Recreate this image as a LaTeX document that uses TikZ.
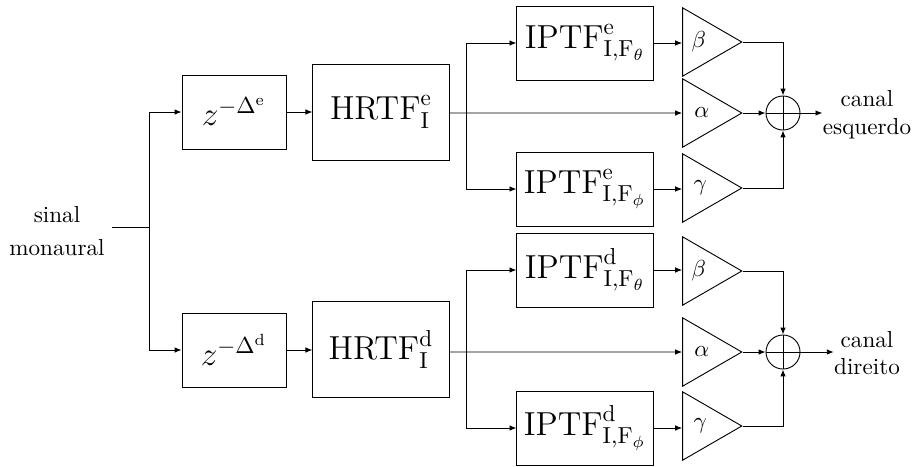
\documentclass[tikz,border=0pt]{standalone}
\usepackage{tikz}
\usetikzlibrary{shapes.geometric,arrows.meta,positioning,calc}

\begin{document}
\begin{tikzpicture}[
  x=0.0152cm, y=-0.0152cm,
  >={Latex[length=3pt,width=2.4pt]},
  blk/.style={draw,rectangle,minimum width=2.07cm,minimum height=1.125cm,inner sep=0pt,font=\Large},
  hrtf/.style={blk,minimum height=1.46cm},
  atraso/.style={blk,minimum width=1.58cm},
  ganho/.style={draw,isosceles triangle,isosceles triangle stretches,
    minimum width=1.04cm,minimum height=0.9cm,inner sep=0pt},
  soma/.style={draw,circle,minimum size=0.517cm,inner sep=0pt,
    path picture={\draw (path picture bounding box.north)--(path picture bounding box.south)
      (path picture bounding box.west)--(path picture bounding box.east);}},
  rot/.style={align=center,inner sep=0pt}]
  \useasboundingbox (0,0) rectangle (914,466);

  % entrada
  \node[rot,inner sep=3.2pt] (in) at (57,231) {sinal\\[2.5pt]monaural};
  \coordinate (sp) at (149,227);
  \draw (in.east |- sp) -- (sp);

  % canal esquerdo
  \node[atraso] (ze) at (234,112) {$z^{-\Delta^{\mathrm{e}}}$};
  \node[hrtf] (he) at (381,112) {$\mathrm{HRTF}^{\mathrm{e}}_{\mathrm{I}}$};
  \node[blk] (ite) at (585,43) {$\mathrm{IPTF}^{\mathrm{e}}_{\mathrm{I},\mathrm{F}_\theta}$};
  \node[blk] (ipe) at (585,189) {$\mathrm{IPTF}^{\mathrm{e}}_{\mathrm{I},\mathrm{F}_\phi}$};
  \node[ganho,anchor=apex] (be) at (743,42) {$\beta$};
  \node[ganho,anchor=apex] (ae) at (743,113) {$\alpha$};
  \node[ganho,anchor=apex] (ge) at (743,188) {$\gamma$};
  \node[soma] (sme) at (783,113) {};
  \node[rot] (oute) at (867,115) {canal\\esquerdo};
  \coordinate (spe) at (466,113);

  % canal direito
  \node[atraso] (zd) at (234,350) {$z^{-\Delta^{\mathrm{d}}}$};
  \node[hrtf] (hd) at (381,349) {$\mathrm{HRTF}^{\mathrm{d}}_{\mathrm{I}}$};
  \node[blk] (itd) at (585,270) {$\mathrm{IPTF}^{\mathrm{d}}_{\mathrm{I},\mathrm{F}_\theta}$};
  \node[blk] (ipd) at (585,428) {$\mathrm{IPTF}^{\mathrm{d}}_{\mathrm{I},\mathrm{F}_\phi}$};
  \node[ganho,anchor=apex] (bd) at (743,271) {$\beta$};
  \node[ganho,anchor=apex] (ad) at (743,352) {$\alpha$};
  \node[ganho,anchor=apex] (gd) at (743,426) {$\gamma$};
  \node[soma] (smd) at (783,352) {};
  \node[rot] (outd) at (867,353) {canal\\direito};
  \coordinate (spd) at (466,352);

  % ligacoes
  \draw[->] (sp) |- (ze.west);
  \draw[->] (sp) |- (zd.west);
  \draw[->] (ze.east) -- (ze.east -| he.west);
  \draw[->] (zd.east) -- (zd.east -| hd.west);

  \draw[->] (he.east |- spe) -- (ae.west);
  \draw[->] (spe) |- (ite.west);
  \draw[->] (spe) |- (ipe.west);
  \draw[->] (ite.east) -- (ite.east -| be.west);
  \draw[->] (ipe.east) -- (ipe.east -| ge.west);
  \draw[->] (be.apex) -| (sme.north);
  \draw[->] (ge.apex) -| (sme.south);
  \draw[->] (ae.apex) -- (sme.west);
  \draw[->] (sme.east) -- (oute.west |- sme.east);

  \draw[->] (hd.east |- spd) -- (ad.west);
  \draw[->] (spd) |- (itd.west);
  \draw[->] (spd) |- (ipd.west);
  \draw[->] (itd.east) -- (itd.east -| bd.west);
  \draw[->] (ipd.east) -- (ipd.east -| gd.west);
  \draw[->] (bd.apex) -| (smd.north);
  \draw[->] (gd.apex) -| (smd.south);
  \draw[->] (ad.apex) -- (smd.west);
  \draw[->] (smd.east) -- (outd.west |- smd.east);
\end{tikzpicture}
\end{document}
